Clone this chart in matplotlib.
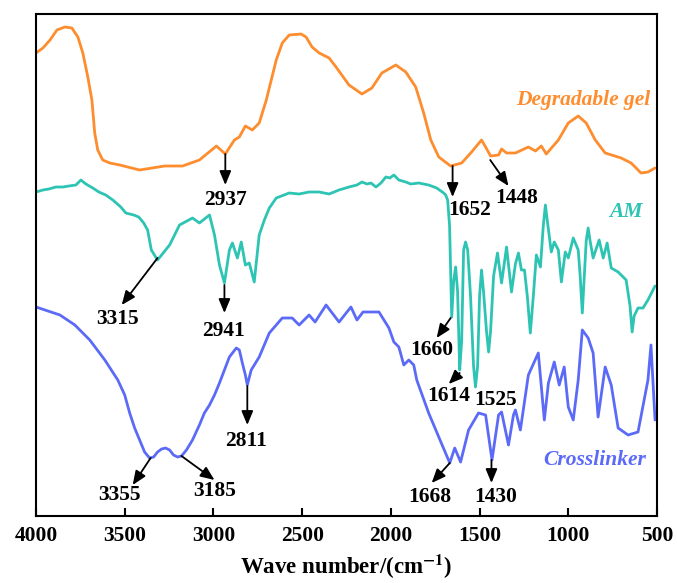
import numpy as np
import matplotlib
matplotlib.use('Agg')
import matplotlib.pyplot as plt

plt.rcParams['font.family'] = ['Liberation Serif', 'DejaVu Serif']
plt.rcParams['mathtext.fontset'] = 'stix'

# Degradable gel (orange)
gel_wn = [4000, 3961, 3921, 3882, 3837, 3798, 3764, 3736, 3708, 3685, 3669, 3652, 3624,
          3584, 3528, 3416, 3275, 3174, 3079, 2983, 2933, 2882, 2854, 2820, 2781, 2742,
          2702, 2674, 2646, 2612, 2573, 2506, 2478, 2444, 2404, 2348, 2309, 2236, 2163,
          2107, 2051, 1972, 1916, 1860, 1815, 1775, 1730, 1663, 1601, 1545, 1489, 1466,
          1438, 1393, 1376, 1348, 1298, 1225, 1185, 1152, 1124, 1056, 1000, 944, 899,
          848, 792, 702, 646, 590, 551, 511]
gel_t = [463, 468, 476, 486, 489, 488, 479, 463, 439, 416, 383, 366, 356,
         353, 351, 346, 350, 350, 356, 370, 362, 376, 379, 390, 386, 393,
         416, 436, 456, 473, 481, 482, 479, 469, 463, 458, 449, 431, 422,
         428, 443, 451, 444, 429, 403, 376, 359, 350, 353, 364, 376, 369,
         360, 361, 367, 363, 363, 369, 365, 370, 362, 376, 393, 400, 393,
         376, 363, 358, 353, 343, 344, 348]

# AM (teal)
am_wn = [4000, 3961, 3927, 3888, 3848, 3815, 3775, 3747, 3719, 3680, 3646, 3607, 3567,
         3522, 3494, 3449, 3421, 3393, 3371, 3350, 3315, 3247, 3191, 3118, 3079, 3022,
         2994, 2966, 2938, 2910, 2893, 2865, 2843, 2820, 2798, 2770, 2742, 2713, 2685,
         2646, 2573, 2517, 2461, 2404, 2348, 2292, 2236, 2191, 2163, 2135, 2112, 2084,
         2056, 2028, 2006, 1983, 1955, 1916, 1888, 1843, 1787, 1742, 1702, 1691, 1680,
         1669, 1657, 1646, 1635, 1624, 1612, 1601, 1590, 1579, 1567, 1551, 1534, 1523,
         1511, 1500, 1489, 1478, 1461, 1449, 1438, 1421, 1399, 1376, 1348, 1320, 1298,
         1281, 1264, 1247, 1231, 1214, 1197, 1180, 1157, 1141, 1129, 1118, 1096, 1079,
         1056, 1039, 1017, 1000, 972, 944, 933, 921, 910, 899, 888, 877, 860, 826, 803,
         781, 758, 719, 674, 652, 640, 629, 607, 579, 551, 511]
am_t = [324, 326, 327, 329, 329, 330, 331, 336, 332, 328, 324, 321, 316,
        309, 303, 301, 299, 293, 286, 266, 256, 271, 291, 298, 293, 301,
        281, 251, 233, 266, 273, 258, 274, 251, 253, 234, 281, 296, 308,
        318, 323, 322, 324, 324, 322, 326, 329, 331, 334, 332, 333, 329,
        333, 339, 338, 341, 336, 334, 332, 333, 331, 328, 323, 321, 316,
        290, 199, 235, 249, 225, 146, 175, 266, 274, 266, 220, 150, 129,
        150, 220, 246, 225, 185, 164, 185, 240, 263, 233, 269, 224, 252,
        263, 246, 246, 220, 183, 220, 261, 249, 290, 311, 295, 264, 274,
        266, 234, 264, 258, 278, 266, 240, 203, 240, 275, 288, 275, 258, 276, 258,
        273, 248, 244, 236, 210, 184, 200, 208, 208, 216, 230]

# Crosslinker (blue)
cl_wn = [4000, 3865, 3781, 3697, 3612, 3539, 3500, 3472, 3444, 3416, 3388, 3360, 3337,
         3315, 3292, 3270, 3247, 3225, 3202, 3180, 3152, 3118, 3079, 3051, 3022, 2994,
         2966, 2938, 2910, 2871, 2854, 2837, 2820, 2809, 2787, 2742, 2685, 2612, 2556,
         2517, 2461, 2427, 2365, 2292, 2225, 2191, 2157, 2067, 2011, 1983, 1955, 1927,
         1899, 1871, 1854, 1787, 1730, 1668, 1640, 1607, 1562, 1506, 1466, 1430, 1393,
         1376, 1337, 1309, 1298, 1270, 1225, 1169, 1135, 1112, 1079, 1051, 1023, 1000,
         972, 944, 921, 888, 860, 832, 792, 758, 719, 663, 607, 551, 534, 511]
cl_t = [209, 201, 191, 176, 156, 136, 121, 103, 88, 76, 64, 58, 59,
        64, 67, 68, 66, 61, 59, 60, 66, 76, 91, 103, 111, 121,
        133, 146, 159, 168, 166, 153, 141, 131, 146, 159, 183, 198, 198,
        191, 201, 194, 211, 194, 209, 196, 204, 204, 188, 174, 169, 151,
        156, 151, 136, 103, 79, 53, 68, 54, 86, 103, 101, 56, 101,
        104, 71, 101, 106, 86, 141, 163, 96, 133, 154, 131, 149, 109,
        96, 136, 186, 178, 163, 99, 149, 131, 88, 81, 84, 136, 171, 96]

# annotations: label, tail (on curve), head, text position
peaks = [
    ('2937', (2933, 362), (2933, 331), (2933, 316)),
    ('1652', (1652, 350), (1652, 319), (1556, 306)),
    ('1448', (1440, 356), (1337, 330), (1292, 318)),
    ('3315', (3315, 258), (3517, 211), (3539, 197)),
    ('2941', (2938, 231), (2938, 203), (2944, 185)),
    ('1660', (1663, 198), (1742, 178), (1770, 166)),
    ('1614', (1612, 143), (1674, 132), (1674, 120)),
    ('1525', None, None, (1410, 116)),
    ('2811', (2809, 130), (2809, 91), (2815, 75)),
    ('3355', (3354, 58), (3455, 31), (3528, 21)),
    ('3185', (3180, 60), (2994, 36), (2994, 25)),
    ('1668', (1668, 53), (1770, 33), (1781, 19)),
    ('1430', (1433, 56), (1433, 33), (1410, 19)),
]

c_gel = '#FD8D2E'
c_am = '#2EC4B4'
c_cl = '#5C6BF7'

fig = plt.figure(figsize=(6.77, 5.83), dpi=100)
ax = fig.add_axes([36/677, 67/583, 621/677, 502/583])

for wn, t, c in [(gel_wn, gel_t, c_gel), (am_wn, am_t, c_am), (cl_wn, cl_t, c_cl)]:
    ax.plot(wn, t, color=c, lw=2, solid_joinstyle='round', solid_capstyle='round')

for lab, tail, head, txt in peaks:
    if tail is not None:
        ax.annotate('', xy=head, xytext=tail,
                    arrowprops=dict(arrowstyle='-|>,head_length=0.6,head_width=0.25',
                                    color='black', lw=1.3,
                                    mutation_scale=14, shrinkA=0, shrinkB=0))
    ax.text(txt[0], txt[1], lab, ha='center', va='center', fontsize=15.5,
            fontweight='bold')

ax.text(539, 416, 'Degradable gel', color=c_gel, ha='right', va='center',
        fontsize=15.5, fontweight='bold', style='italic')
ax.text(674, 304, 'AM', color=c_am, ha='center', va='center',
        fontsize=15.5, fontweight='bold', style='italic')
ax.text(562, 56, 'Crosslinker', color=c_cl, ha='right', va='center',
        fontsize=15.5, fontweight='bold', style='italic')

ax.set_xlim(4000, 500)
ax.set_ylim(0, 502)
ax.set_xticks([4000, 3500, 3000, 2500, 2000, 1500, 1000, 500])
ax.set_yticks([])
ax.tick_params(axis='x', direction='in', length=6, width=1.5, pad=7,
               labelsize=15.5)
for lbl in ax.get_xticklabels():
    lbl.set_fontweight('bold')
for sp in ax.spines.values():
    sp.set_linewidth(1.5)
ax.set_xlabel(r'Wave number/(cm$^{\mathbf{-1}}$)', fontsize=16.5, fontweight='bold',
              labelpad=5)

fig.savefig('out.png', dpi=100, facecolor='white')
